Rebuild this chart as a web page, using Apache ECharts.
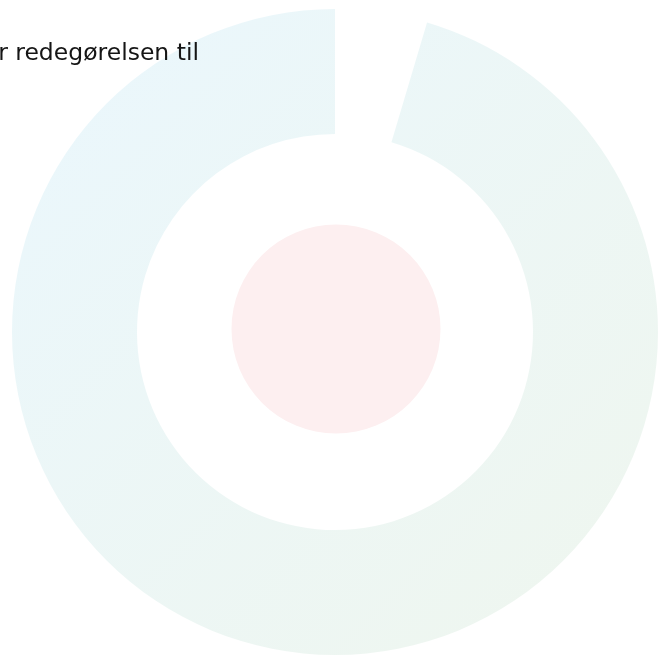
<!DOCTYPE html>
<html>
<head>
<meta charset="utf-8">
<script src="https://cdn.jsdelivr.net/npm/echarts@6/dist/echarts.min.js"></script>
<style>
  html, body { margin: 0; padding: 0; background: #ffffff; }
  #main { width: 659px; height: 659px; }
</style>
</head>
<body>
<div id="main"></div>
<script>
// tittel (beskåret i venstre kant i originalen)
const titleText = 'Status for redegørelsen til';

// ytre ring: andel levert / åpning øverst
const ringNames = ['Levert', 'Gjenstår'];
const ringValues = [95.4, 4.6];

// indre sirkel
const coreNames = ['Kjerne'];
const coreValues = [1];

const chart = echarts.init(document.getElementById('main'));

const option = {
  animation: false,
  title: {
    text: titleText,
    left: 194,
    top: 37,
    textAlign: 'right',
    textStyle: {
      fontFamily: 'DejaVu Sans',
      fontWeight: 'normal',
      fontSize: 23.5,
      color: '#151515'
    }
  },
  series: [
    {
      type: 'pie',
      center: [335, 332],
      radius: [198, 323],
      startAngle: 90,
      clockwise: false,
      silent: true,
      label: { show: false },
      labelLine: { show: false },
      emphasis: { disabled: true },
      data: ringNames.map((name, i) => ({
        name: name,
        value: ringValues[i],
        itemStyle: i === 0 ? {
          // diagonal overgang blå -> grønn
          color: {
            type: 'linear', x: 0, y: 0, x2: 1, y2: 1,
            colorStops: [
              { offset: 0, color: '#eaf7fd' },
              { offset: 1, color: '#eff6ee' }
            ]
          }
        } : { color: 'rgba(0,0,0,0)' }
      }))
    },
    {
      type: 'pie',
      center: [336, 329],
      radius: [0, 104.5],
      silent: true,
      label: { show: false },
      labelLine: { show: false },
      emphasis: { disabled: true },
      itemStyle: { color: '#fdeff0' },
      data: coreNames.map((name, i) => ({ name: name, value: coreValues[i] }))
    }
  ]
};

chart.setOption(option);
</script>
</body>
</html>
